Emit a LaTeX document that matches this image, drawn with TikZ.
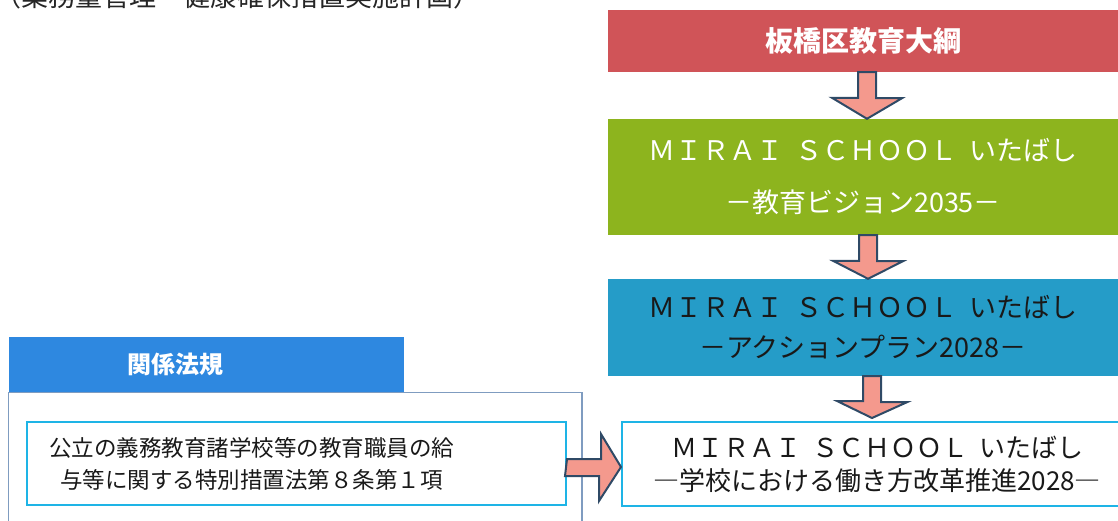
\documentclass[tikz,border=0pt]{standalone}
\usepackage{fontspec}
\setmainfont{Noto Sans CJK JP}
\usepackage{tikz}
\usetikzlibrary{calc}
\definecolor{taikored}{HTML}{D05458}
\definecolor{visiongreen}{HTML}{8DB41E}
\definecolor{actionblue}{HTML}{259CC8}
\definecolor{hokiblue}{HTML}{2E88E0}
\definecolor{waku}{HTML}{1EB4E6}
\definecolor{sotowaku}{HTML}{7F9CC0}
\definecolor{yajifill}{HTML}{F4998D}
\definecolor{yajiline}{HTML}{2F4A66}

\begin{document}
\begin{tikzpicture}[x=1pt,y=-1pt,
        hako/.style={rectangle,inner sep=0pt,align=center},
        yajirushi/.style={fill=yajifill,draw=yajiline,line width=2pt,line join=miter}]
                \useasboundingbox (0,0) rectangle (1118,521);

                % 計画名（上で切れている）
                \node[anchor=west,inner sep=0pt,text=black!85,font=\fontsize{27}{30}\selectfont] (keikaku) at (-6,-4) {（業務量管理・健康確保措置実施計画）};

                % 右の列
                \node[hako,fill=taikored,minimum width=510pt,minimum height=62pt,text=white,font=\bfseries\fontsize{28}{30}\selectfont] (taiko) at (863,41) {板橋区教育大綱};
                \node[hako,fill=visiongreen,minimum width=510pt,minimum height=116pt,text=white,font=\fontsize{27}{52}\selectfont] (vision) at (863,177) {ＭＩＲＡＩ\hspace{12pt}ＳＣＨＯＯＬ\hspace{12pt}いたばし\\－教育ビジョン2035－};
                \node[hako,fill=actionblue,minimum width=510pt,minimum height=97pt,text=black!90,font=\fontsize{27}{40}\selectfont] (action) at (863,327.5) {ＭＩＲＡＩ\hspace{12pt}ＳＣＨＯＯＬ\hspace{12pt}いたばし\\－アクションプラン2028－};
                \node[hako,draw=waku,line width=2pt,fill=white,minimum width=510pt,minimum height=84pt,text=black!90,font=\fontsize{26}{33}\selectfont] (kaikaku) at (877,464) {ＭＩＲＡＩ\hspace{11pt}ＳＣＨＯＯＬ\hspace{11pt}いたばし\\―学校における働き方改革推進2028―};

                % 関係法規
                \node[hako,fill=hokiblue,minimum width=395pt,minimum height=55pt,text=white,font=\bfseries\fontsize{24}{26}\selectfont] (hoki) at (206.5,364.5) {\makebox[159pt][l]{関係法規}};
                \draw[draw=sotowaku,line width=1.2pt] (hoki.south west) rectangle (582,530);
                \node[hako,draw=waku,line width=2pt,minimum width=539pt,minimum height=83pt,text width=493pt,align=left,text=black!90,font=\fontsize{22.5}{32}\selectfont] (tokusoho) at (296.5,463.5) {\makebox[403pt]{公立の義務教育諸学校等の教育職員の給}\\\makebox[403pt]{与等に関する特別措置法第８条第１項}};

                % 矢印
                \draw[yajirushi] ($(taiko.south)+(-5,0)$) -- ++(18,0) -- ++(0,26) -- ++(26,0) -- ($(vision.north)+(4,0)$) -- ++(-35,-21) -- ++(26,0) -- cycle;
                \draw[yajirushi] ($(vision.south)+(-4,0)$) -- ++(18,0) -- ++(0,26) -- ++(26,0) -- ($(action.north)+(5,0)$) -- ++(-35,-18) -- ++(26,0) -- cycle;
                \draw[yajirushi] (action.south) -- ++(18,0) -- ++(0,26) -- ++(26,0) -- ($(kaikaku.north)+(-5,-3)$) -- ++(-35,-17) -- ++(26,0) -- cycle;
                \draw[yajirushi] ($(tokusoho.east)+(0,-4.5)$) -- ++(34,0) -- ++(0,-25) -- ($(kaikaku.west)+(0,3)$) -- ++(-22,34) -- ++(0,-25) -- ++(-34,0) -- cycle;
\end{tikzpicture}
\end{document}
